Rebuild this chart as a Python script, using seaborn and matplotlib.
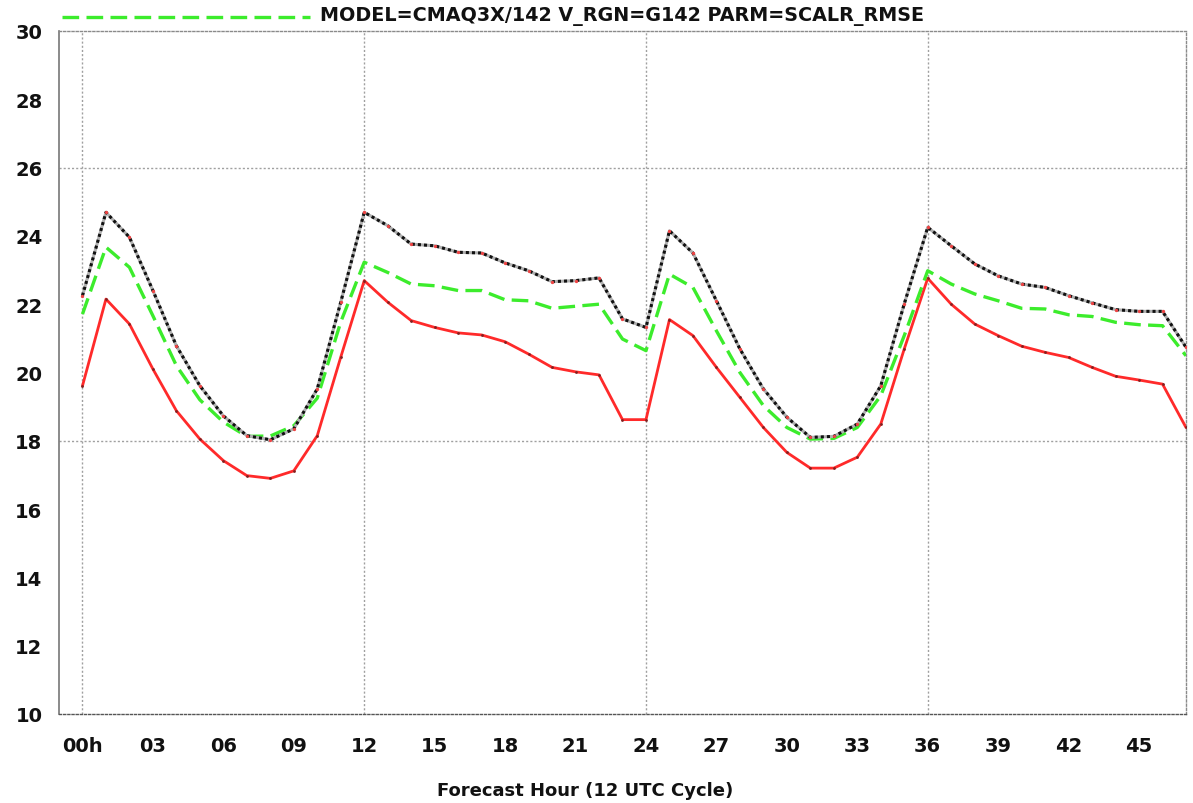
import numpy as np
import pandas as pd
import matplotlib
matplotlib.use("Agg")
import matplotlib.pyplot as plt
from matplotlib.lines import Line2D
import seaborn as sns

# ---- data ----
hours = list(range(48))
tick_hours = list(range(0, 46, 3))
tick_labels = ["00h"] + [f"{h:02d}" for h in range(3, 46, 3)]

rmse_black = [22.25, 24.69, 23.96, 22.4, 20.78, 19.61, 18.73, 18.15, 18.03, 18.35,
              19.52, 22.06, 24.69, 24.3, 23.76, 23.71, 23.52, 23.5, 23.21, 22.98,
              22.66, 22.69, 22.77, 21.57, 21.32, 24.15, 23.5, 22.1, 20.69, 19.52,
              18.69, 18.1, 18.13, 18.49, 19.61, 22.01, 24.25, 23.71, 23.18, 22.83,
              22.59, 22.49, 22.25, 22.04, 21.84, 21.79, 21.79, 20.74]
rmse_green = [21.71, 23.67, 23.08, 21.66, 20.2, 19.2, 18.55, 18.13, 18.14, 18.44,
              19.25, 21.48, 23.23, 22.93, 22.59, 22.54, 22.4, 22.4, 22.13, 22.1,
              21.88, 21.94, 22.0, 20.98, 20.64, 22.88, 22.49, 21.22, 20.0, 19.03,
              18.39, 18.05, 18.07, 18.39, 19.32, 21.08, 22.98, 22.59, 22.3, 22.1,
              21.88, 21.86, 21.69, 21.64, 21.47, 21.4, 21.37, 20.49]
rmse_red = [19.61, 22.15, 21.42, 20.1, 18.88, 18.05, 17.42, 16.98, 16.9, 17.12,
            18.15, 20.45, 22.69, 22.06, 21.52, 21.32, 21.16, 21.1, 20.9, 20.54,
            20.15, 20.02, 19.93, 18.62, 18.62, 21.55, 21.08, 20.15, 19.27, 18.39,
            17.66, 17.2, 17.2, 17.52, 18.49, 20.69, 22.76, 22.0, 21.42, 21.08,
            20.77, 20.59, 20.44, 20.15, 19.89, 19.78, 19.66, 18.39]
legend_label = "MODEL=CMAQ3X/142 V_RGN=G142 PARM=SCALR_RMSE"
x_label = "Forecast Hour (12 UTC Cycle)"

df = pd.DataFrame({"hour": hours, "black": rmse_black,
                   "green": rmse_green, "red": rmse_red})

# ---- style ----
sns.set_style("white")
plt.rcParams["font.family"] = ["DejaVu Sans"]

fig = plt.figure(figsize=(11.93, 8.04), dpi=100)
ax = fig.add_axes([59 / 1193, 1 - 715 / 804, (1186 - 59) / 1193, (715 - 32) / 804])

GRID = "#a0a0a0"
for yv in [18, 26]:
    ax.axhline(yv, color=GRID, lw=1.0, ls=(0, (1.5, 1.5)), zorder=1)
for xv in [0, 12, 24, 36]:
    ax.axvline(xv, color=GRID, lw=1.0, ls=(0, (1.5, 1.5)), zorder=1)

# red solid
sns.lineplot(data=df, x="hour", y="red", ax=ax, color="#ff2a2a", lw=2.0,
             marker="o", markersize=2.0, markeredgewidth=0, markerfacecolor="#802020",
             zorder=3)
# green dashed
sns.lineplot(data=df, x="hour", y="green", ax=ax, color="#3cec2c", lw=2.4,
             linestyle=(0, (5, 2.2)), zorder=4)
# black dotted with grey underlay
sns.lineplot(data=df, x="hour", y="black", ax=ax, color="#b0b0b0", lw=2.2, zorder=5)
sns.lineplot(data=df, x="hour", y="black", ax=ax, color="#111111", lw=2.2,
             linestyle=(0, (1, 1)), zorder=6)
sns.lineplot(data=df, x="hour", y="black", ax=ax, color="none", lw=0,
             marker="o", markersize=2.4, markeredgewidth=0, markerfacecolor="#ee4444",
             zorder=7)

ax.set_xlim(-1, 47)
ax.set_ylim(10, 30)
ax.set_xticks(tick_hours)
ax.set_xticklabels(tick_labels)
ax.set_yticks(np.arange(10, 31, 2))
ax.tick_params(axis="both", which="major", direction="out", length=6, width=1,
               color="#888888", labelsize=14, pad=6, labelcolor="#111111")
ax.tick_params(axis="x", pad=10)
for lab in ax.get_xticklabels() + ax.get_yticklabels():
    lab.set_fontweight("bold")
ax.set_xlabel(x_label, fontsize=13, fontweight="bold", color="#111111")
ax.xaxis.set_label_coords((585 - 59) / 1127, -0.098)
ax.set_ylabel("")

for side in ["top", "right", "bottom"]:
    ax.spines[side].set_color("#8a8a8a")
    ax.spines[side].set_linestyle((0, (1.5, 1.5)))
    ax.spines[side].set_linewidth(1.0)
ax.spines["left"].set_color("#777777")
ax.spines["left"].set_linewidth(1.2)
ax.spines["bottom"].set_color("#555555")

# legend-like header above the plot
fig.add_artist(Line2D([62 / 1193, 310 / 1193], [1 - 18 / 804, 1 - 18 / 804],
                      color="#3cec2c", lw=2.4, ls=(0, (5, 2.2))))
fig.text(320 / 1193, 1 - 17 / 804, legend_label, fontsize=13.8, fontweight="bold",
         va="center", ha="left", color="#111111")

fig.savefig("out.png", dpi=100)
